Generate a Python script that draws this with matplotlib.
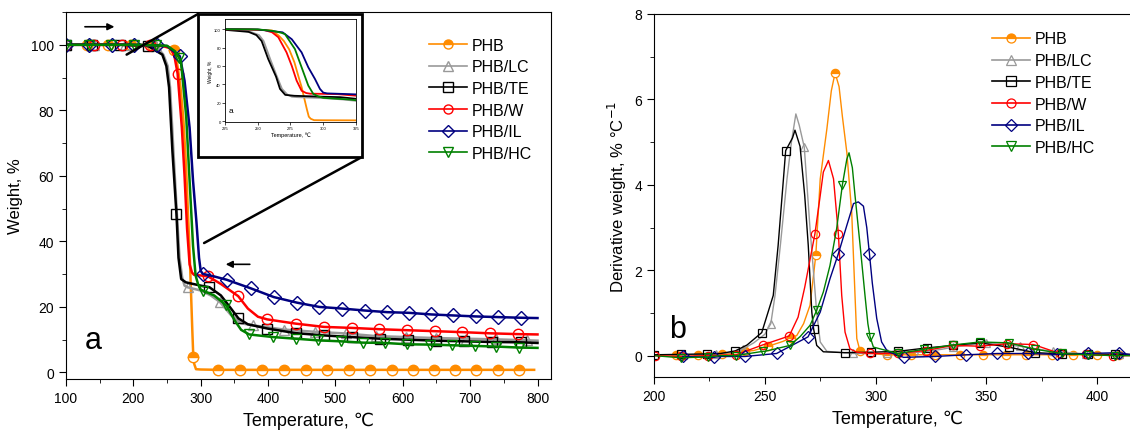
"""TGA (a) and DTG (b) curves of PHB and its blends."""

import matplotlib
matplotlib.use("Agg")
import matplotlib.pyplot as plt
from matplotlib.patches import ConnectionPatch, Rectangle
from matplotlib.ticker import MultipleLocator
import numpy as np

plt.rcParams["font.family"] = ["Liberation Sans", "DejaVu Sans"]

LABELS = ["PHB", "PHB/LC", "PHB/TE", "PHB/W", "PHB/IL", "PHB/HC"]

# ---- TGA (weight, %) : curve points + marker points -----------------------
tga_t = {
    "PHB": [100, 240, 255, 266, 270, 274, 278, 281, 283.5, 285.5, 287.5,
            290.5, 293, 300, 400, 600, 795],
    "PHB/LC": [244.5, 251, 254.5, 259.5, 264.5, 268.5, 272.5, 276, 300, 315,
               345, 360, 800],
    "PHB/TE": [243, 249, 253, 258, 267, 271, 278, 300, 330, 345, 370, 800],
    "PHB/W": [245, 255, 261, 272, 276, 279.7, 283.5, 287, 290, 300, 330, 370,
              385, 800],
    "PHB/IL": [250, 263, 276, 283.5, 288.6, 293.7, 297.5, 300, 320, 800],
    "PHB/HC": [250, 262, 270.8, 278.4, 283.5, 288.6, 292.4, 296, 300, 320,
               350, 360, 800],
}
tga_w = {
    "PHB": [100, 99.7, 99, 93, 87, 78, 64, 49, 37, 25, 13, 2.5, 1.0, 0.9,
            0.8, 0.8, 0.8],
    "PHB/LC": [97, 93.5, 87, 67.5, 49, 35, 29, 26.5, 25, 23.5, 17.5, 15, 9.7],
    "PHB/TE": [97, 93.5, 87, 67.5, 35, 28.5, 27.5, 26.5, 23.5, 19.5, 14.7,
               9.0],
    "PHB/W": [99.6, 99, 96.5, 74.7, 60, 44, 33, 30.5, 29.8, 29.6, 27, 19.5,
              17, 11.6],
    "PHB/IL": [99.6, 97.5, 89, 74.7, 58.5, 45.8, 35, 31, 29.3, 16.6],
    "PHB/HC": [99.7, 98, 94.6, 78.3, 58.5, 38.6, 29.6, 27, 25.3, 23.5, 16,
               13, 7.5],
}
tga_mark_t = {
    "PHB": [131, 163, 196, 228, 261, 289, 326, 358, 391, 424, 456, 488, 520,
            552, 584, 615, 646, 678, 709, 741, 772],
    "PHB/LC": [100, 142, 188, 234, 280.5, 328.5, 377, 423.5, 469.5, 515, 560,
               604.5, 649, 693.5, 739, 785],
    "PHB/TE": [100, 139, 180, 222, 264, 313, 356, 399, 441, 483, 524, 566,
               608, 650, 691, 733, 775],
    "PHB/W": [100, 141, 183, 224, 265.7, 311, 355.6, 398.7, 441, 483, 524,
              565, 606, 647.5, 688.5, 729, 771],
    "PHB/IL": [100, 134, 168, 201, 235, 269, 303, 338.4, 374, 408.6, 443, 476,
               510, 543.6, 577, 609, 642.6, 674.6, 708, 741, 775],
    "PHB/HC": [100, 134, 167, 201, 234, 268, 303, 338, 372, 407.6, 441, 474,
               508, 541, 574, 606, 640, 673, 707, 739, 772.6],
}
tga_mark_w = {
    "PHB": [100, 100, 100, 100, 98.5, 4.8, 0.8, 0.8, 0.8, 0.8, 0.8, 0.8, 0.8,
            0.8, 0.8, 0.8, 0.8, 0.8, 0.8, 0.8, 0.8],
    "PHB/LC": [100, 100, 100, 99.5, 26, 21.5, 14.4, 13.1, 12.4, 11.9, 11.1,
               10.8, 10.5, 10.3, 10.1, 9.8],
    "PHB/TE": [100, 100, 100, 99.6, 48.3, 26, 16.5, 13.4, 12, 11.3, 10.8,
               10.3, 10, 9.7, 9.5, 9.3, 9.2],
    "PHB/W": [100, 100, 100, 99.8, 91.2, 29.3, 23.3, 16.2, 14.9, 13.9, 13.6,
              13.2, 12.9, 12.6, 12.3, 11.95, 11.7],
    "PHB/IL": [100, 100, 100, 100, 99.8, 96.5, 30.1, 28.3, 25.7, 23, 21.3, 20,
               19.5, 18.9, 18.4, 18.2, 17.7, 17.4, 17.1, 16.9, 16.7],
    "PHB/HC": [100, 100, 100, 100, 99.8, 96, 25, 20.5, 11.6, 10.8, 10.3, 9.8,
               9.5, 9.1, 9.0, 8.6, 8.5, 8.3, 8.1, 7.9, 7.6],
}

# ---- DTG (derivative weight, %/°C) ----------------------------------------
dtg_t = {
    "PHB": [200, 245, 258, 264.4, 267.5, 270.4, 275, 278, 280, 283.5, 285,
            287, 289.2, 290.7, 291.5, 300, 415],
    "PHB/LC": [200, 235, 245, 250, 254.6, 257, 260, 262, 264, 265.5, 270.4,
               273.4, 275, 278, 330, 415],
    "PHB/TE": [230, 242, 253.8, 256, 258.4, 262.5, 263.6, 265.9, 268, 269.6,
               271.2, 273.4, 276.4, 415],
    "PHB/W": [265, 268, 275, 276.4, 278.7, 281, 284.7, 286.2, 288.4, 291.5,
              415],
    "PHB/IL": [230, 275, 279.4, 287, 290, 292.2, 294.5, 296, 298.5, 300.5,
               302.7, 305.3, 415],
    "PHB/HC": [200, 230, 250, 266, 270.4, 276.4, 279.4, 282.4, 287, 288, 289.5,
               290.7, 293, 295.2, 296.5, 299, 415],
}
dtg_d = {
    "PHB": [0.02, 0.12, 0.33, 0.47, 0.75, 1.18, 4.14, 5.31, 6.2, 6.3, 5.6,
            4.76, 3.36, 1.41, 0.4, 0.04, 0.02],
    "PHB/LC": [0.02, 0.08, 0.3, 0.5, 1.41, 2.58, 4.14, 5.0, 5.66, 5.4, 2.97,
               1.02, 0.32, 0.1, 0.15, 0.03],
    "PHB/TE": [0.05, 0.25, 1.41, 2.58, 4.14, 5.1, 5.28, 4.9, 3.75, 2.58, 1.02,
               0.24, 0.09, 0.03],
    "PHB/W": [0.9, 1.6, 3.75, 4.3, 4.57, 4.14, 1.41, 0.55, 0.16, 0.08, 0.0],
    "PHB/IL": [-0.02, 1.02, 1.8, 3.05, 3.56, 3.6, 3.5, 3.0, 1.7, 0.87, 0.32,
               0.1, 0.02],
    "PHB/HC": [0.0, 0.0, 0.1, 0.45, 0.71, 1.49, 2.11, 2.97, 4.6, 4.75, 4.4,
               3.75, 2.58, 1.41, 0.75, 0.2, 0.0],
}
dtg_mark_t = {
    "PHB": [210, 220, 230.5, 241, 251.5, 262, 273, 281.7, 293, 305, 316, 327,
            338, 348.6, 359, 368, 379.5, 389, 400, 410],
    "PHB/LC": [213, 228, 240, 252.7, 267.8, 290, 305, 320, 335, 350, 365, 380,
               395, 410],
    "PHB/TE": [200, 212, 224, 236.6, 248.6, 259.4, 272, 286, 298, 310, 323,
               335, 347, 360, 372, 384, 396, 408],
    "PHB/W": [200.5, 212, 224.4, 237, 249, 261, 272.6, 283.2, 297.5, 310,
              322.7, 335, 347, 359.2, 371.2, 383.2, 395, 407],
    "PHB/IL": [213, 227, 241, 255.3, 269.5, 283.2, 297.2, 312.6, 326.8, 341,
               355, 368.7, 382, 396, 410],
    "PHB/HC": [212, 224.5, 237, 249, 261.4, 273.4, 285, 297.5, 310, 322, 335,
               347, 360, 372, 384, 396, 408],
}
dtg_mark_d = {
    "PHB": [0.02, 0.02, 0.03, 0.1, 0.22, 0.42, 2.35, 6.62, 0.1, 0.02, 0.02,
            0.02, 0.02, 0.02, 0.02, 0.02, 0.02, 0.02, 0.02, 0.02],
    "PHB/LC": [0.02, 0.03, 0.15, 0.75, 4.88, 0.05, 0.05, 0.08, 0.2, 0.3, 0.22,
               0.1, 0.04, 0.03],
    "PHB/TE": [0.02, 0.03, 0.04, 0.11, 0.54, 4.8, 0.63, 0.07, 0.08, 0.1, 0.18,
               0.24, 0.3, 0.2, 0.07, 0.04, 0.03, 0.03],
    "PHB/W": [0.0, -0.02, 0.0, 0.02, 0.25, 0.46, 2.85, 2.84, 0.05, 0.05, 0.12,
              0.24, 0.22, 0.28, 0.26, 0.05, 0.03, 0.0],
    "PHB/IL": [-0.02, -0.04, -0.02, 0.05, 0.44, 2.39, 2.39, -0.04, -0.02,
               0.02, 0.05, 0.05, 0.03, 0.05, 0.07],
    "PHB/HC": [-0.05, -0.03, 0.0, 0.1, 0.24, 1.06, 4.0, 0.44, 0.05, 0.15,
               0.25, 0.32, 0.3, 0.15, 0.05, 0.02, 0.0],
}

STYLE = {
    "PHB": dict(color="#FF8C00", marker="o", fillstyle="top"),
    "PHB/LC": dict(color="#999999", marker="^", fillstyle="none"),
    "PHB/TE": dict(color="#000000", marker="s", fillstyle="none"),
    "PHB/W": dict(color="#FF0000", marker="o", fillstyle="none"),
    "PHB/IL": dict(color="#000080", marker="D", fillstyle="none"),
    "PHB/HC": dict(color="#008000", marker="v", fillstyle="none"),
}


def merged(curve_t, curve_v, mark_t, mark_v):
    t = np.concatenate([curve_t, mark_t]).astype(float)
    v = np.concatenate([curve_v, mark_v]).astype(float)
    order = np.argsort(t, kind="stable")
    t, v = t[order], v[order]
    return t, v, np.isin(t, mark_t)


def draw(ax, name, t, v, mask, lw, ms, mew):
    st = STYLE[name]
    ax.plot(t, v, color=st["color"], lw=lw, marker=st["marker"],
            markersize=ms, markevery=list(mask), fillstyle=st["fillstyle"],
            markerfacecolor=st["color"] if st["fillstyle"] == "top" else "white",
            markerfacecoloralt="white", markeredgecolor=st["color"],
            markeredgewidth=mew, label=name)


def style_axis(ax):
    ax.tick_params(which="both", direction="out", top=False, right=False,
                   labelsize=10)
    ax.tick_params(which="major", length=5)
    ax.tick_params(which="minor", length=3)


def small_legend(ax, anchor):
    leg = ax.legend(loc="upper left", bbox_to_anchor=anchor,
                    bbox_transform=fig.transFigure, frameon=False,
                    fontsize=11.5, handlelength=2.4, labelspacing=0.42,
                    handletextpad=0.3)
    for line in leg.get_lines():
        line.set_linewidth(1.2)
        line.set_markersize(6.5)
    return leg


fig = plt.figure(figsize=(11.3, 4.31), dpi=100)

# ---- panel a ---------------------------------------------------------------
ax1 = fig.add_axes([0.0584, 0.1183, 0.4292, 0.8515])
for name in LABELS:
    t, v, m = merged(tga_t[name], tga_w[name], tga_mark_t[name],
                     tga_mark_w[name])
    draw(ax1, name, t, v, m, lw=1.8, ms=7.5, mew=1.0)
ax1.set_xlim(100, 820)
ax1.set_ylim(-2, 110)
ax1.xaxis.set_major_locator(MultipleLocator(100))
ax1.xaxis.set_minor_locator(MultipleLocator(50))
ax1.yaxis.set_major_locator(MultipleLocator(20))
ax1.yaxis.set_minor_locator(MultipleLocator(10))
style_axis(ax1)
ax1.set_xlabel("Temperature, \u2103", fontsize=13, labelpad=5)
ax1.set_ylabel("Weight, %", fontsize=12, labelpad=6)
ax1.text(128, 10, "a", fontsize=22, va="center")
ax1.annotate("", xy=(176, 105.5), xytext=(124, 105.5),
             arrowprops=dict(arrowstyle="-|>", color="k", lw=1.2))
ax1.annotate("", xy=(333, 33), xytext=(377, 33),
             arrowprops=dict(arrowstyle="-|>", color="k", lw=1.2))
small_legend(ax1, (0.367, 0.944))

# inset frame and zoom lines
box = Rectangle((0.1752, 0.6334), 0.1451, 0.3318, transform=fig.transFigure,
                facecolor="white", edgecolor="black", lw=2.0, zorder=5)
fig.patches.append(box)
for xy, corner in (((190, 97), (0.1752, 0.9652)),
                   ((305, 39.5), (0.3203, 0.6334))):
    con = ConnectionPatch(xyA=xy, coordsA=ax1.transData, xyB=corner,
                          coordsB=fig.transFigure, color="black", lw=1.8)
    fig.add_artist(con)

axi = fig.add_axes([0.1991, 0.7146, 0.1159, 0.239], zorder=6)
for name in LABELS:
    t, v, m = merged(tga_t[name], tga_w[name], tga_mark_t[name],
                     tga_mark_w[name])
    axi.plot(t, v, color=STYLE[name]["color"], lw=1.3)
axi.set_xlim(225, 325)
axi.set_ylim(-1, 111)
axi.set_xticks([225, 250, 275, 300, 325])
axi.set_yticks([0, 20, 40, 60, 80, 100])
axi.tick_params(labelsize=3, length=2, width=0.5, pad=1)
for sp in axi.spines.values():
    sp.set_linewidth(0.6)
axi.set_xlabel("Temperature, \u2103", fontsize=4, labelpad=1)
axi.set_ylabel("Weight, %", fontsize=3.5, labelpad=1)
axi.text(228, 10, "a", fontsize=6)

# ---- panel b ---------------------------------------------------------------
ax2 = fig.add_axes([0.5788, 0.1230, 0.4314, 0.8422])
for name in LABELS:
    t, v, m = merged(dtg_t[name], dtg_d[name], dtg_mark_t[name],
                     dtg_mark_d[name])
    draw(ax2, name, t, v, m, lw=1.0, ms=6, mew=0.9)
ax2.set_xlim(200, 420)
ax2.set_ylim(-0.5, 8)
ax2.xaxis.set_major_locator(MultipleLocator(50))
ax2.xaxis.set_minor_locator(MultipleLocator(25))
ax2.yaxis.set_major_locator(MultipleLocator(2))
ax2.yaxis.set_minor_locator(MultipleLocator(1))
style_axis(ax2)
ax2.set_xlabel("Temperature, \u2103", fontsize=13, labelpad=5)
ax2.set_ylabel("Derivative weight, % \u00b0C$^{-1}$", fontsize=12, labelpad=4)
ax2.text(207, 0.62, "b", fontsize=22, va="center")
small_legend(ax2, (0.865, 0.958))

fig.savefig("out.png", dpi=100)
